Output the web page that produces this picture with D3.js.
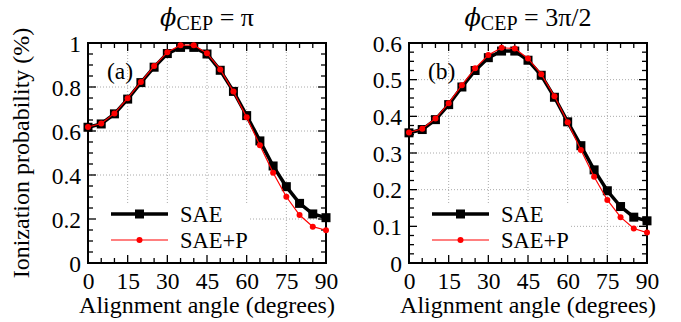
<!DOCTYPE html>
<html>
<head>
<meta charset="utf-8">
<script src="https://cdn.jsdelivr.net/npm/d3@7"></script>
<style>
  body { margin: 0; background: #fff; }
</style>
</head>
<body>
<svg id="chart" width="681" height="322"></svg>
<script>
// 对齐角度 (degrees)
var angles = [0, 5, 10, 15, 20, 25, 30, 35, 40, 45, 50, 55, 60, 65, 70, 75, 80, 85, 90];
// (a) phi_CEP = pi
var saeA  = [0.617, 0.632, 0.678, 0.745, 0.820, 0.890, 0.952, 0.980, 0.980, 0.950, 0.876, 0.780, 0.670, 0.555, 0.441, 0.347, 0.271, 0.223, 0.206];
var saePA = [0.618, 0.634, 0.680, 0.749, 0.823, 0.895, 0.958, 0.990, 0.990, 0.953, 0.880, 0.779, 0.662, 0.535, 0.410, 0.301, 0.218, 0.165, 0.149];
// (b) phi_CEP = 3pi/2
var saeB  = [0.355, 0.364, 0.391, 0.432, 0.480, 0.525, 0.560, 0.578, 0.578, 0.553, 0.512, 0.452, 0.385, 0.320, 0.254, 0.197, 0.154, 0.125, 0.115];
var saePB = [0.356, 0.366, 0.394, 0.436, 0.485, 0.531, 0.567, 0.587, 0.585, 0.558, 0.515, 0.455, 0.384, 0.308, 0.235, 0.172, 0.125, 0.094, 0.083];
var xTicks = [0, 15, 30, 45, 60, 75, 90];
var yTicksA = [0, 0.2, 0.4, 0.6, 0.8, 1];
var yTicksB = [0, 0.1, 0.2, 0.3, 0.4, 0.5, 0.6];
var seriesNames = ["SAE", "SAE+P"];

var SERIF = "'Liberation Serif', 'Times New Roman', Times, serif";
var svg = d3.select("#chart");

// 一个子图
function drawPanel(opt) {
    var x = d3.scaleLinear().domain([0, 90]).range([opt.left, opt.right]);
    var y = d3.scaleLinear().domain([0, opt.yMax]).range([opt.bottom, opt.top]);
    var g = svg.append("g");

    // 网格线
    var grid = g.append("g")
        .attr("stroke", "#aaa")
        .attr("stroke-width", 1)
        .attr("stroke-dasharray", "1,2");
    grid.selectAll(".gx").data(xTicks.slice(1, -1)).enter().append("line")
        .attr("x1", function (d) { return x(d); })
        .attr("x2", function (d) { return x(d); })
        .attr("y1", opt.top).attr("y2", opt.bottom);
    grid.selectAll(".gy").data(opt.yTicks.slice(1, -1)).enter().append("line")
        .attr("y1", function (d) { return y(d); })
        .attr("y2", function (d) { return y(d); })
        .attr("x1", opt.left).attr("x2", opt.right);

    // 图例背景
    g.append("rect")
        .attr("x", opt.left + 1)
        .attr("y", opt.top + 161)
        .attr("width", 160)
        .attr("height", opt.bottom - opt.top - 162)
        .attr("fill", "#fff");

    // 刻度 (四边向内)
    var ticks = g.append("g").attr("stroke", "#000").attr("stroke-width", 1.3);
    var xMinor = d3.range(0, 90.01, 5);
    var yMinor = d3.range(0, opt.yMax + 1e-6, opt.yMinor);
    function isMajor(v, step) { return Math.abs(v / step - Math.round(v / step)) < 1e-6; }
    xMinor.forEach(function (v) {
        var len = isMajor(v, 15) ? 8 : 5;
        ticks.append("line").attr("x1", x(v)).attr("x2", x(v)).attr("y1", opt.bottom).attr("y2", opt.bottom - len);
        ticks.append("line").attr("x1", x(v)).attr("x2", x(v)).attr("y1", opt.top).attr("y2", opt.top + len);
    });
    yMinor.forEach(function (v) {
        var len = isMajor(v, opt.yStep) ? 8 : 5;
        ticks.append("line").attr("y1", y(v)).attr("y2", y(v)).attr("x1", opt.left).attr("x2", opt.left + len);
        ticks.append("line").attr("y1", y(v)).attr("y2", y(v)).attr("x1", opt.right).attr("x2", opt.right - len);
    });

    // 坐标轴
    var xAxis = g.append("g")
        .attr("transform", "translate(0," + opt.bottom + ")")
        .call(d3.axisBottom(x).tickValues(xTicks).tickSize(0).tickPadding(8));
    var yAxis = g.append("g")
        .attr("transform", "translate(" + opt.left + ",0)")
        .call(d3.axisLeft(y).tickValues(opt.yTicks).tickSize(0).tickPadding(7)
            .tickFormat(function (d) { return String(+d.toFixed(2)); }));
    [xAxis, yAxis].forEach(function (a) {
        a.attr("font-family", null).attr("font-size", null);
        a.select(".domain").remove();
        a.selectAll("text").style("font-family", SERIF).style("font-size", "23.5px").attr("fill", "#000");
    });
    xAxis.selectAll("text").attr("dy", "0.75em");
    yAxis.selectAll("text").attr("dy", "0.34em");

    // 边框
    g.append("rect")
        .attr("x", opt.left).attr("y", opt.top)
        .attr("width", opt.right - opt.left).attr("height", opt.bottom - opt.top)
        .attr("fill", "none").attr("stroke", "#000").attr("stroke-width", 2);

    // 数据
    var line = d3.line()
        .x(function (d, i) { return x(angles[i]); })
        .y(function (d) { return y(d); });
    g.append("path").datum(opt.sae)
        .attr("d", line).attr("fill", "none")
        .attr("stroke", "#000").attr("stroke-width", 3.5);
    g.selectAll(".sq").data(opt.sae).enter().append("rect")
        .attr("x", function (d, i) { return x(angles[i]) - 4.5; })
        .attr("y", function (d) { return y(d) - 4.5; })
        .attr("width", 9).attr("height", 9).attr("fill", "#000");
    g.append("path").datum(opt.saeP)
        .attr("d", line).attr("fill", "none")
        .attr("stroke", "#f00").attr("stroke-width", 1.2);
    g.selectAll(".dot").data(opt.saeP).enter().append("circle")
        .attr("cx", function (d, i) { return x(angles[i]); })
        .attr("cy", function (d) { return y(d); })
        .attr("r", 3).attr("fill", "#f00");

    // 图例
    var lg = g.append("g").attr("transform", "translate(" + opt.left + "," + opt.top + ")");
    lg.append("line").attr("x1", 23).attr("x2", 80).attr("y1", 171).attr("y2", 171)
        .attr("stroke", "#000").attr("stroke-width", 3.5);
    lg.append("rect").attr("x", 51.5 - 4.5).attr("y", 171 - 4.5).attr("width", 9).attr("height", 9).attr("fill", "#000");
    lg.append("line").attr("x1", 23).attr("x2", 80).attr("y1", 197).attr("y2", 197)
        .attr("stroke", "#f00").attr("stroke-width", 1.2);
    lg.append("circle").attr("cx", 51.5).attr("cy", 197).attr("r", 3).attr("fill", "#f00");
    lg.selectAll("text").data(seriesNames).enter().append("text")
        .attr("x", 92)
        .attr("y", function (d, i) { return 179 + i * 26; })
        .style("font-family", SERIF).style("font-size", "22.5px")
        .text(function (d) { return d; });

    // 面板标签
    g.append("text")
        .attr("x", opt.left + 19).attr("y", opt.top + 36)
        .style("font-family", SERIF).style("font-size", "23.5px")
        .text(opt.tag);

    // x轴标题
    g.append("text")
        .attr("x", (opt.left + opt.right) / 2).attr("y", 313)
        .attr("text-anchor", "middle")
        .style("font-family", SERIF).style("font-size", "24px")
        .text("Alignment angle (degrees)");

    // 标题
    var t = g.append("text")
        .attr("x", (opt.left + opt.right) / 2).attr("y", 26)
        .attr("text-anchor", "middle")
        .style("font-family", SERIF).style("font-size", "26px");
    t.append("tspan").style("font-style", "italic").style("font-family", "'DejaVu Serif', serif").style("font-size", "24px").text("ϕ");
    t.append("tspan").style("font-size", "20px").attr("dy", 4).text("CEP");
    t.append("tspan").attr("dy", -4).text(" = " + opt.cep);
}

drawPanel({ left: 88, right: 326, top: 43, bottom: 263, yMax: 1, yStep: 0.2, yMinor: 0.05,
    yTicks: yTicksA, sae: saeA, saeP: saePA, tag: "(a)", cep: "π" });
drawPanel({ left: 409, right: 647, top: 43, bottom: 263, yMax: 0.6, yStep: 0.1, yMinor: 0.025,
    yTicks: yTicksB, sae: saeB, saeP: saePB, tag: "(b)", cep: "3π/2" });

// y轴标题
svg.append("text")
    .attr("transform", "translate(29,153) rotate(-90)")
    .attr("text-anchor", "middle")
    .style("font-family", SERIF).style("font-size", "24px")
    .text("Ionization probability (%)");
</script>
</body>
</html>
